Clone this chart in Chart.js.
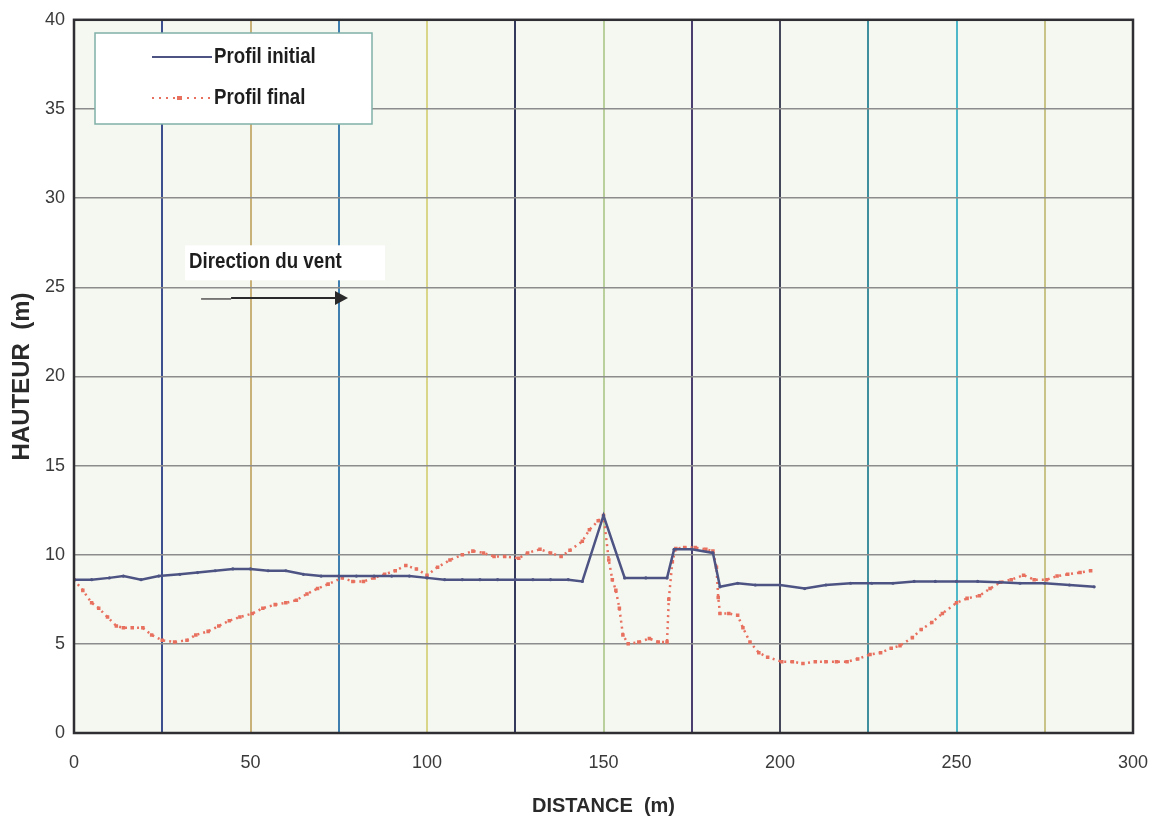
<!DOCTYPE html>
<html>
<head>
<meta charset="utf-8">
<script src="https://cdn.jsdelivr.net/npm/chart.js@4"></script>
<style>
    html, body { margin: 0; padding: 0; background: #ffffff; }
    #profil { display: block; }
</style>
</head>
<body>
<canvas id="profil" width="1162" height="827"></canvas>
<script>
// Profil initial (distance m / hauteur m)
const initialDist = [0, 5, 10, 14, 19, 24, 30, 35, 40, 45, 50, 55, 60, 65, 70, 75, 80, 85, 90, 95,
    100, 105, 110, 115, 120, 125, 130, 135, 140, 144, 150, 156, 162, 168, 170, 175, 181, 183, 188, 193,
    200, 207, 213, 220, 226, 232, 238, 244, 250, 256, 262, 268, 275, 282, 289];
const initialHeight = [8.6, 8.6, 8.7, 8.8, 8.6, 8.8, 8.9, 9.0, 9.1, 9.2, 9.2, 9.1, 9.1, 8.9, 8.8, 8.8, 8.8, 8.8, 8.8, 8.8,
    8.7, 8.6, 8.6, 8.6, 8.6, 8.6, 8.6, 8.6, 8.6, 8.5, 12.2, 8.7, 8.7, 8.7, 10.3, 10.3, 10.1, 8.2, 8.4, 8.3,
    8.3, 8.1, 8.3, 8.4, 8.4, 8.4, 8.5, 8.5, 8.5, 8.5, 8.45, 8.4, 8.4, 8.3, 8.2];

// Profil final
const finalDist = [0, 2.5, 5, 7, 9.5, 12, 14, 16.5, 19.5, 22, 25, 28.5, 32, 34.5, 38, 41, 44, 47, 50.5, 53.5,
    57, 60, 63, 66, 69, 72, 76, 79, 82, 85, 88, 91, 94, 97, 100, 103, 106.5, 110, 113, 116,
    119, 122, 126, 128.5, 132, 135, 138, 140.5, 144, 146, 148.5, 150, 151.5, 152.5, 153.5, 154.5, 155.5, 157, 160, 163,
    165.5, 168, 168.5, 169.5, 170.5, 173, 176, 179, 181, 182, 182.5, 183, 185.5, 188, 189.5, 191.5, 194, 196.5, 200.5, 203.5,
    206.5, 210, 213, 216, 219, 222, 225.5, 228.5, 231.5, 234, 237.5, 240, 243, 246, 250, 253, 256.5, 259.5, 262.5, 265.5,
    269, 272, 275.5, 278.5, 281.5, 285, 288];
const finalHeight = [8.6, 8.0, 7.3, 7.0, 6.5, 6.0, 5.9, 5.9, 5.9, 5.5, 5.2, 5.1, 5.2, 5.5, 5.7, 6.0, 6.3, 6.5, 6.7, 7.0,
    7.2, 7.3, 7.45, 7.8, 8.1, 8.35, 8.7, 8.5, 8.5, 8.7, 8.9, 9.1, 9.4, 9.2, 8.85, 9.3, 9.7, 10.0, 10.2, 10.1,
    9.9, 9.9, 9.8, 10.1, 10.3, 10.1, 9.9, 10.25, 10.75, 11.4, 11.9, 12.2, 9.7, 8.6, 8.0, 7.0, 5.5, 5.0, 5.1, 5.3,
    5.1, 5.1, 7.5, 9.6, 10.35, 10.4, 10.4, 10.3, 10.2, 9.3, 7.6, 6.7, 6.7, 6.6, 5.9, 5.1, 4.5, 4.25, 4.0, 4.0,
    3.9, 4.0, 4.0, 4.0, 4.0, 4.15, 4.4, 4.5, 4.75, 4.9, 5.35, 5.8, 6.2, 6.7, 7.3, 7.55, 7.7, 8.1, 8.45, 8.6,
    8.85, 8.6, 8.6, 8.8, 8.9, 9.0, 9.1];

const xTicks = [0, 50, 100, 150, 200, 250, 300];
const yTicks = [0, 5, 10, 15, 20, 25, 30, 35, 40];
const seriesNames = ['Profil initial', 'Profil final'];
const windLabel = 'Direction du vent';

const SANS = '"Liberation Sans", Arial, sans-serif';
const INITIAL_COLOR = '#4d5483';
const FINAL_COLOR = '#e8705f';

// colours of the vertical grid lines, every 25 m (scanned chart, mixed inks)
const vGridColors = {
    25: '#3d4f8f', 50: '#c9b27a', 75: '#3f7fb0', 100: '#d9d68a', 125: '#343a5c', 150: '#b9cf9c',
    175: '#4a3f6e', 200: '#45475a', 225: '#3f8f9f', 250: '#4fb8c8', 275: '#c8c488'
};

const toPoints = (xs, ys) => xs.map((x, i) => ({ x: x, y: ys[i] }));

// bold text squeezed horizontally, like the narrow face of the original
function narrowText(ctx, text, x, y) {
    ctx.save();
    ctx.translate(x, y);
    ctx.scale(0.85, 1);
    ctx.fillText(text, 0, 0);
    ctx.restore();
}

const framePlugin = {
    id: 'frame',
    beforeDraw(chart) {
        const { ctx, chartArea: a } = chart;
        ctx.save();
        ctx.fillStyle = '#f5f8f1';
        ctx.fillRect(a.left, a.top, a.right - a.left, a.bottom - a.top);
        ctx.restore();
    },
    afterDraw(chart) {
        const { ctx, chartArea: a, scales } = chart;
        ctx.save();
        ctx.strokeStyle = '#2e2e33';
        ctx.lineWidth = 2.5;
        ctx.strokeRect(a.left, a.top, a.right - a.left, a.bottom - a.top);

        // legend box
        ctx.fillStyle = '#ffffff';
        ctx.fillRect(95, 33, 277, 91);
        ctx.strokeStyle = '#7fb0a8';
        ctx.lineWidth = 1.5;
        ctx.strokeRect(95, 33, 277, 91);

        ctx.font = 'bold 22px ' + SANS;
        ctx.textBaseline = 'middle';
        ctx.fillStyle = '#1e1e1e';

        ctx.strokeStyle = INITIAL_COLOR;
        ctx.lineWidth = 2;
        ctx.beginPath();
        ctx.moveTo(152, 57);
        ctx.lineTo(212, 57);
        ctx.stroke();
        narrowText(ctx, seriesNames[0], 214, 57);

        ctx.strokeStyle = FINAL_COLOR;
        ctx.setLineDash([2, 5]);
        ctx.beginPath();
        ctx.moveTo(152, 98);
        ctx.lineTo(212, 98);
        ctx.stroke();
        ctx.setLineDash([]);
        ctx.fillStyle = FINAL_COLOR;
        ctx.fillRect(177, 96, 5, 4);
        ctx.fillStyle = '#1e1e1e';
        narrowText(ctx, seriesNames[1], 214, 98);

        // wind direction note
        const x = scales.x, y = scales.y;
        const tx = x.getPixelForValue(32.6), ty = y.getPixelForValue(26.4);
        ctx.fillStyle = '#ffffff';
        ctx.fillRect(tx - 4, ty - 17, 200, 35);
        ctx.fillStyle = '#1e1e1e';
        narrowText(ctx, windLabel, tx, ty);

        const ay = y.getPixelForValue(24.4);
        const ax0 = x.getPixelForValue(36), ax1 = x.getPixelForValue(44.5), ax2 = x.getPixelForValue(74.5);
        ctx.strokeStyle = '#555';
        ctx.lineWidth = 1.5;
        ctx.beginPath();
        ctx.moveTo(ax0, ay + 1);
        ctx.lineTo(ax1, ay + 1);
        ctx.stroke();
        ctx.strokeStyle = '#2a2a2a';
        ctx.lineWidth = 2;
        ctx.beginPath();
        ctx.moveTo(ax1, ay);
        ctx.lineTo(ax2, ay);
        ctx.stroke();
        ctx.fillStyle = '#2a2a2a';
        ctx.beginPath();
        ctx.moveTo(ax2 - 2, ay - 7);
        ctx.lineTo(ax2 + 11, ay);
        ctx.lineTo(ax2 - 2, ay + 7);
        ctx.closePath();
        ctx.fill();
        ctx.restore();
    }
};

new Chart(document.getElementById('profil').getContext('2d'), {
    type: 'line',
    data: {
        datasets: [
            {
                label: seriesNames[0],
                data: toPoints(initialDist, initialHeight),
                borderColor: INITIAL_COLOR,
                backgroundColor: INITIAL_COLOR,
                borderWidth: 2.5,
                pointRadius: 1.6,
                pointBorderWidth: 0,
                tension: 0
            },
            {
                label: seriesNames[1],
                data: toPoints(finalDist, finalHeight),
                borderColor: FINAL_COLOR,
                backgroundColor: FINAL_COLOR,
                borderWidth: 2.5,
                borderDash: [2, 4],
                pointStyle: 'rect',
                pointRadius: 2.5,
                pointBorderWidth: 0,
                tension: 0
            }
        ]
    },
    options: {
        responsive: false,
        animation: false,
        devicePixelRatio: 1,
        layout: { padding: { top: 18, right: 0, left: 0, bottom: 0 } },
        plugins: {
            legend: { display: false },
            tooltip: { enabled: false }
        },
        scales: {
            x: {
                type: 'linear',
                min: 0,
                max: 300,
                afterFit: s => {
                    s.height = 94;
                    s.paddingLeft = 0;
                    s.paddingRight = 29;
                },
                afterBuildTicks: s => {
                    const t = [];
                    for (let v = 0; v <= 300; v += 25) t.push({ value: v });
                    s.ticks = t;
                },
                border: { display: false },
                grid: {
                    drawTicks: false,
                    lineWidth: 2,
                    color: c => vGridColors[c.tick.value] || 'rgba(0,0,0,0)'
                },
                ticks: {
                    padding: 19,
                    color: '#3a3a3a',
                    font: { family: SANS, size: 18 },
                    maxRotation: 0,
                    autoSkip: false,
                    callback: v => xTicks.includes(v) ? String(v) : ''
                },
                title: {
                    display: true,
                    text: 'DISTANCE  (m)',
                    color: '#2a2a2a',
                    font: { family: SANS, size: 20, weight: 'bold' },
                    padding: { top: 0, bottom: 9 }
                }
            },
            y: {
                min: 0,
                max: 40,
                afterFit: s => { s.width = 74; },
                afterBuildTicks: s => { s.ticks = yTicks.map(v => ({ value: v })); },
                border: { display: false },
                grid: {
                    drawTicks: false,
                    lineWidth: 1.5,
                    color: '#8c8c8c'
                },
                ticks: {
                    padding: 9,
                    color: '#3a3a3a',
                    font: { family: SANS, size: 18 }
                },
                title: {
                    display: true,
                    text: 'HAUTEUR  (m)',
                    color: '#2a2a2a',
                    font: { family: SANS, size: 24, weight: 'bold' },
                    padding: { top: 8, bottom: 0 }
                }
            }
        }
    },
    plugins: [framePlugin]
});
</script>
</body>
</html>
